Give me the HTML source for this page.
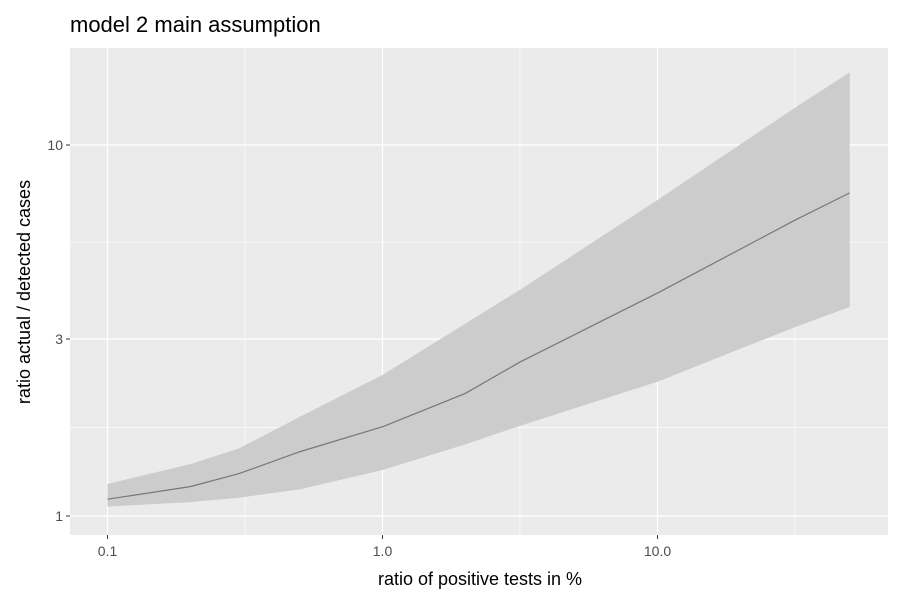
<!DOCTYPE html>
<html><head><meta charset="utf-8"><style>
body{margin:0;background:#fff;font-family:"Liberation Sans",sans-serif}
</style></head><body>
<svg width="900" height="600" xmlns="http://www.w3.org/2000/svg">
<rect width="900" height="600" fill="#fff"/>
<text x="70" y="32" font-size="22" fill="#000">model 2 main assumption</text>
<rect x="70" y="48" width="818" height="487" fill="#ebebeb"/>
<g id="grid"></g>
<g id="marks"></g>
<g id="axes"></g>
<text x="480" y="585" font-size="18" text-anchor="middle" fill="#000">ratio of positive tests in %</text>
<text transform="translate(30,292) rotate(-90)" font-size="18" text-anchor="middle" fill="#000">ratio actual / detected cases</text>
</svg>
<script>
const xs=[0.1,0.2,0.3,0.5,1,2,3.16,10,31.6,50];
const mid=[1.11,1.2,1.3,1.49,1.74,2.14,2.6,3.99,6.27,7.43];
const lo=[1.06,1.09,1.12,1.18,1.33,1.56,1.75,2.3,3.23,3.66];
const hi=[1.22,1.38,1.52,1.85,2.4,3.3,4.07,7.11,12.6,15.7];
const xTicks=[0.1,1,10];
const xTickLabels=["0.1","1.0","10.0"];
const yTicks=[1,3,10];
const yTickLabels=["1","3","10"];
const xMinor=[0.316,3.16,31.6];
const yMinor=[Math.pow(10,0.2386),Math.pow(10,0.7386)];
const X=v=>382.5+275*Math.log10(v);
const Y=v=>516-371*Math.log10(v);
const NS="http://www.w3.org/2000/svg";
function mk(t,a,p){const e=document.createElementNS(NS,t);for(const k in a)e.setAttribute(k,a[k]);p.appendChild(e);return e;}
const g=document.getElementById('grid'),m=document.getElementById('marks'),ax=document.getElementById('axes');
xMinor.forEach(v=>{const e=mk('line',{x1:X(v),x2:X(v),y1:48,y2:535,stroke:'#fff','stroke-width':0.6},g);

});
yMinor.forEach(v=>{const e=mk('line',{x1:70,x2:888,y1:Y(v),y2:Y(v),stroke:'#fff','stroke-width':0.6},g);

});
xTicks.forEach((v,i)=>{const e=mk('line',{x1:X(v),x2:X(v),y1:48,y2:535,stroke:'#fff','stroke-width':1.3},g);


const t=mk('line',{x1:X(v),x2:X(v),y1:535,y2:539,stroke:'#333','stroke-width':1},ax);


const l=mk('text',{x:X(v),y:556,'font-size':14,'text-anchor':'middle',fill:'#4d4d4d'},ax);l.textContent=xTickLabels[i];

});
yTicks.forEach((v,i)=>{const e=mk('line',{x1:70,x2:888,y1:Y(v),y2:Y(v),stroke:'#fff','stroke-width':1.3},g);


const t=mk('line',{x1:66,x2:70,y1:Y(v),y2:Y(v),stroke:'#333','stroke-width':1},ax);


const l=mk('text',{x:63,y:Y(v)+5,'font-size':14,'text-anchor':'end',fill:'#4d4d4d'},ax);l.textContent=yTickLabels[i];

});
let d='';xs.forEach((v,i)=>{d+=(i?'L':'M')+X(v)+','+Y(hi[i]);});
for(let i=xs.length-1;i>=0;i--)d+='L'+X(xs[i])+','+Y(lo[i]);d+='Z';
const band=mk('path',{d:d,fill:'#cccccc'},m);


let d2='';xs.forEach((v,i)=>{d2+=(i?'L':'M')+X(v)+','+Y(mid[i]);});
const line=mk('path',{d:d2,fill:'none',stroke:'#777','stroke-width':1.2},m);


</script>
</body></html>
